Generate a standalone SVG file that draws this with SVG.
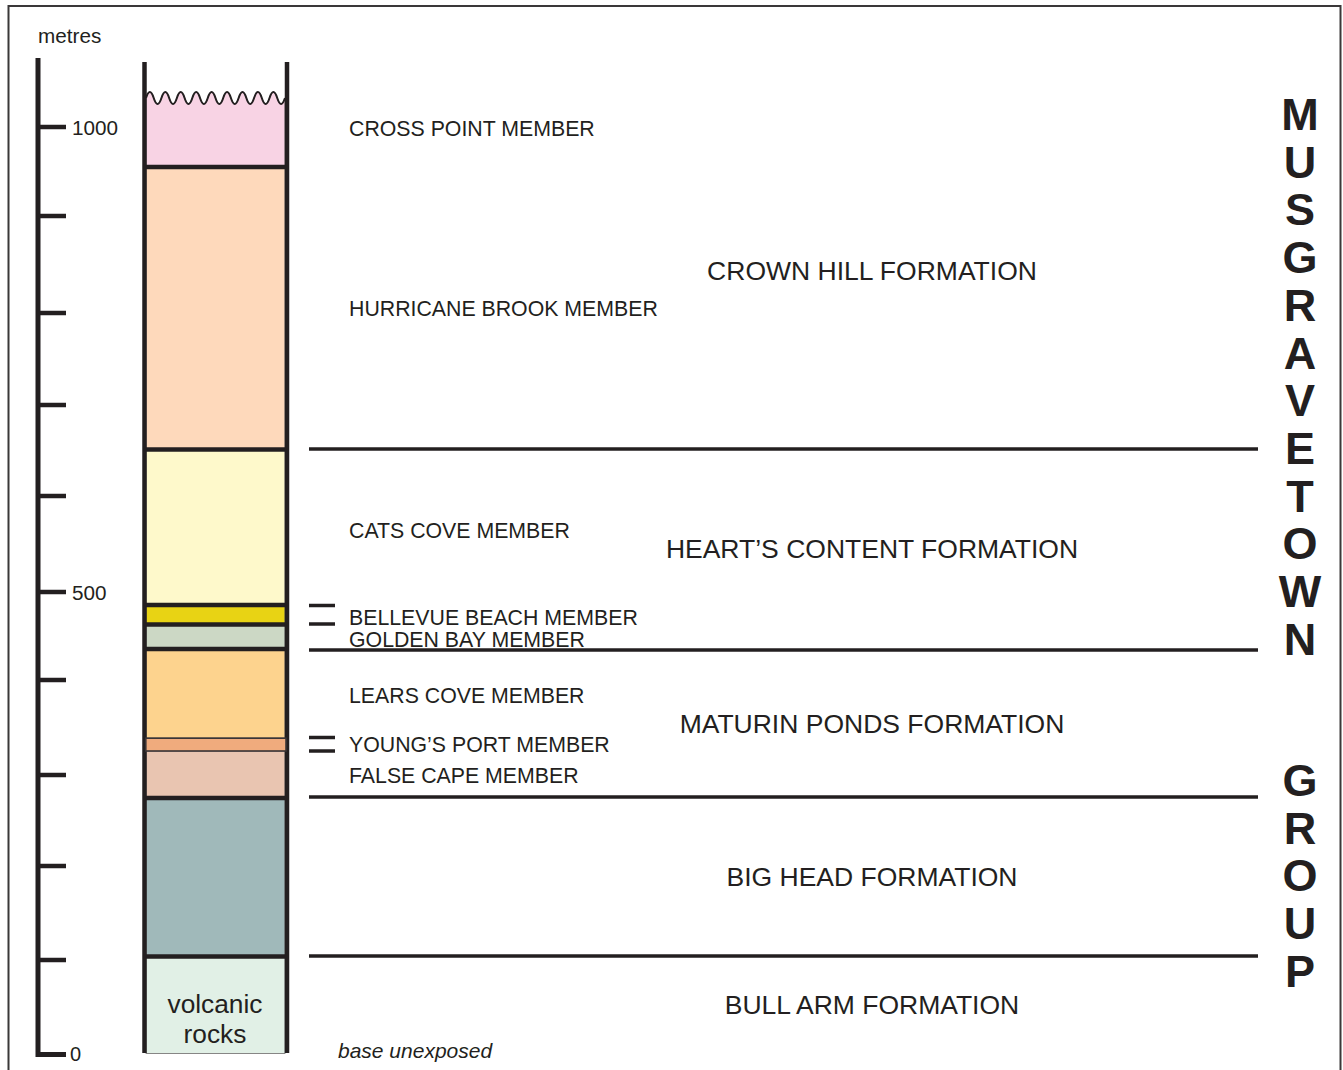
<svg xmlns="http://www.w3.org/2000/svg" width="1343" height="1070" viewBox="0 0 1343 1070">
<style>
.t{font-family:"Liberation Sans",Arial,sans-serif;fill:#231f20}
.ax{font-size:20.7px}
.mem{font-size:21.3px}
.fm{font-size:26.5px;text-anchor:middle}
.grp{font-size:45px;font-weight:bold;text-anchor:middle}
.ln{stroke:#231f20;fill:none}
.lay{stroke:#6d6a6a;stroke-width:0.8}
</style>
<rect width="1343" height="1070" fill="#fff"/>
<rect x="8.5" y="6" width="1332" height="1090" fill="none" stroke="#3a3839" stroke-width="2"/>

<g id="scale">
<path class="ln" d="M38,58 V1054.5 H66" stroke-width="5" stroke-linejoin="miter"/>
<g class="ln" stroke-width="4.5">
<line x1="38" y1="127" x2="66" y2="127"/>
<line x1="38" y1="216" x2="66" y2="216"/>
<line x1="38" y1="313" x2="66" y2="313"/>
<line x1="38" y1="405" x2="66" y2="405"/>
<line x1="38" y1="496" x2="66" y2="496"/>
<line x1="38" y1="592" x2="66" y2="592"/>
<line x1="38" y1="680" x2="66" y2="680"/>
<line x1="38" y1="775" x2="66" y2="775"/>
<line x1="38" y1="866" x2="66" y2="866"/>
<line x1="38" y1="960" x2="66" y2="960"/>
</g>
<text class="t ax" x="38" y="43">metres</text>
<text class="t ax" x="72" y="134.5">1000</text>
<text class="t ax" x="72" y="599.5">500</text>
<text class="t" x="70" y="1061" font-size="20">0</text>
</g>

<g id="column">
<path id="cross-point-layer" class="lay" fill="#f8d3e4" d="M146,98 q3.86,-12 7.72,0 t7.72,0 t7.72,0 t7.72,0 t7.72,0 t7.72,0 t7.72,0 t7.72,0 t7.72,0 t7.72,0 t7.72,0 t7.72,0 t7.72,0 t7.72,0 t7.72,0 t7.72,0 t7.72,0 t7.72,0 L285,167 L146,167 Z"/>
<path class="ln" stroke-width="2" d="M146,98 q3.86,-12 7.72,0 t7.72,0 t7.72,0 t7.72,0 t7.72,0 t7.72,0 t7.72,0 t7.72,0 t7.72,0 t7.72,0 t7.72,0 t7.72,0 t7.72,0 t7.72,0 t7.72,0 t7.72,0 t7.72,0 t7.72,0"/>
<rect id="hurricane-brook-layer" class="lay" x="146" y="167" width="139" height="282" fill="#fed9bb"/>
<rect id="cats-cove-layer" class="lay" x="146" y="449" width="139" height="156" fill="#fef9cb"/>
<rect id="bellevue-beach-layer" class="lay" x="146" y="605" width="139" height="19.5" fill="#e8d314"/>
<rect id="golden-bay-layer" class="lay" x="146" y="624.5" width="139" height="24.5" fill="#ccd8c5"/>
<rect id="lears-cove-layer" class="lay" x="146" y="649" width="139" height="89" fill="#fdd38e"/>
<rect id="false-cape-layer" class="lay" x="146" y="751" width="139" height="47" fill="#e9c5b1"/>
<rect id="big-head-layer" class="lay" x="146" y="798" width="139" height="158.5" fill="#a0b9ba"/>
<rect id="bull-arm-layer" class="lay" x="146" y="956.5" width="139" height="97" fill="#e1f0e6"/>
<g class="ln" stroke-width="4.5">
<line x1="146" y1="167" x2="285" y2="167"/>
<line x1="146" y1="449.5" x2="285" y2="449.5"/>
<line x1="146" y1="605" x2="285" y2="605"/>
<line x1="146" y1="624.5" x2="285" y2="624.5"/>
<line x1="146" y1="649" x2="285" y2="649"/>
<line x1="146" y1="798" x2="285" y2="798"/>
<line x1="146" y1="956.5" x2="285" y2="956.5"/>
</g>
<g class="ln" stroke-width="4.5">
<line x1="144.5" y1="62" x2="144.5" y2="1053"/>
<line x1="287" y1="62" x2="287" y2="1053"/>
</g>
<rect id="youngs-port-layer" x="145.8" y="738.2" width="140.2" height="12.8" fill="#f0ab7d" stroke="#3a3536" stroke-width="1.6"/>
<text class="t" x="215" y="1013" font-size="26.3" text-anchor="middle">volcanic</text>
<text class="t" x="215" y="1043" font-size="26.3" text-anchor="middle">rocks</text>
</g>

<g id="connectors">
<g class="ln" stroke-width="3.5">
<line x1="309" y1="449" x2="1258" y2="449"/>
<line x1="309" y1="650" x2="1258" y2="650"/>
<line x1="309" y1="797" x2="1258" y2="797"/>
<line x1="309" y1="956" x2="1258" y2="956"/>
<line x1="309" y1="605.5" x2="335" y2="605.5"/>
<line x1="309" y1="624" x2="335" y2="624"/>
<line x1="309" y1="737.5" x2="335" y2="737.5"/>
<line x1="309" y1="751" x2="335" y2="751"/>
</g>
</g>

<g id="members">
<text class="t mem" x="349" y="136">CROSS POINT MEMBER</text>
<text class="t mem" x="349" y="316">HURRICANE BROOK MEMBER</text>
<text class="t mem" x="349" y="538">CATS COVE MEMBER</text>
<text class="t mem" x="349" y="625">BELLEVUE BEACH MEMBER</text>
<text class="t mem" x="349" y="646.5">GOLDEN BAY MEMBER</text>
<text class="t mem" x="349" y="703">LEARS COVE MEMBER</text>
<text class="t mem" x="349" y="752">YOUNG’S PORT MEMBER</text>
<text class="t mem" x="349" y="783">FALSE CAPE MEMBER</text>
<text class="t" x="338" y="1058" font-size="21" font-style="italic">base unexposed</text>
</g>

<g id="formations">
<text class="t fm" x="872" y="280">CROWN HILL FORMATION</text>
<text class="t fm" x="872" y="558">HEART’S CONTENT FORMATION</text>
<text class="t fm" x="872" y="733">MATURIN PONDS FORMATION</text>
<text class="t fm" x="872" y="886">BIG HEAD FORMATION</text>
<text class="t fm" x="872" y="1014">BULL ARM FORMATION</text>
</g>

<g id="group-label">
<text class="t grp" x="1300" y="130">M</text>
<text class="t grp" x="1300" y="177.7">U</text>
<text class="t grp" x="1300" y="225.4">S</text>
<text class="t grp" x="1300" y="273.1">G</text>
<text class="t grp" x="1300" y="320.8">R</text>
<text class="t grp" x="1300" y="368.5">A</text>
<text class="t grp" x="1300" y="416.2">V</text>
<text class="t grp" x="1300" y="463.9">E</text>
<text class="t grp" x="1300" y="511.6">T</text>
<text class="t grp" x="1300" y="559.3">O</text>
<text class="t grp" x="1300" y="607">W</text>
<text class="t grp" x="1300" y="654.7">N</text>
<text class="t grp" x="1300" y="796">G</text>
<text class="t grp" x="1300" y="843.7">R</text>
<text class="t grp" x="1300" y="891.4">O</text>
<text class="t grp" x="1300" y="939.1">U</text>
<text class="t grp" x="1300" y="986.8">P</text>
</g>
</svg>
